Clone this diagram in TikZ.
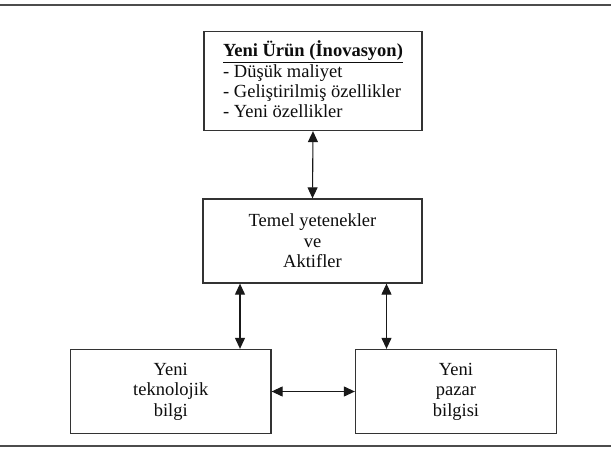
\documentclass[tikz,border=0pt]{standalone}
\usepackage{fontspec}
\setmainfont{Liberation Serif}
\usetikzlibrary{arrows.meta}
\begin{document}
\begin{tikzpicture}[x=1pt,y=-1pt,
  box/.style={draw=black!80, line width=1.3pt, inner sep=0pt, fill=white},
  txt/.style={font=\fontsize{18.5}{20.5}\selectfont, align=center, text=black!95},
  ltxt/.style={font=\fontsize{18.5}{20.5}\selectfont, text=black!95, inner sep=0pt, anchor=base west},
  link/.style={{Triangle[length=11pt,width=10pt]}-{Triangle[length=11pt,width=10pt]}, line width=1.1pt, draw=black!90},
  rule/.style={line width=1.6pt, draw=black!70}]
\useasboundingbox (0,0) rectangle (611,450);
\coordinate (tl) at (0,5);
\coordinate (tr) at (611,5);
\coordinate (bl) at (0,446);
\coordinate (br) at (611,446);
\draw[rule] (tl) -- (tr);
\draw[rule] (bl) -- (br);

\node[box, minimum width=218pt, minimum height=99pt] (top) at (313,81) {};
\node[ltxt, font=\fontsize{18.5}{20.5}\selectfont\bfseries, anchor=base] (title) at (313,56.5) {\underline{Yeni Ürün (İnovasyon)}};
\node[ltxt] (l1) at (223,77.5) {- Düşük maliyet};
\node[ltxt] (l2) at (223,97.5) {- Geliştirilmiş özellikler};
\node[ltxt] (l3) at (223,117.5) {- Yeni özellikler};

\node[box, txt, minimum width=219pt, minimum height=84pt] (mid) at (312.5,241) {Temel yetenekler\\ve\\Aktifler};
\node[box, txt, minimum width=200.5pt, minimum height=84pt] (left) at (170.75,391.5) {Yeni\\teknolojik\\bilgi};
\node[box, txt, minimum width=201pt, minimum height=84pt] (right) at (456,391.5) {Yeni\\pazar\\bilgisi};

\coordinate (la) at (240,0);
\coordinate (ra) at (386.5,0);
\draw[link] (top.south) -- (mid.north);
\draw[link] (mid.south -| la) -- (left.north -| la);
\draw[link] (mid.south -| ra) -- (right.north -| ra);
\draw[link] (left.east) -- (right.west);
\end{tikzpicture}
\end{document}
